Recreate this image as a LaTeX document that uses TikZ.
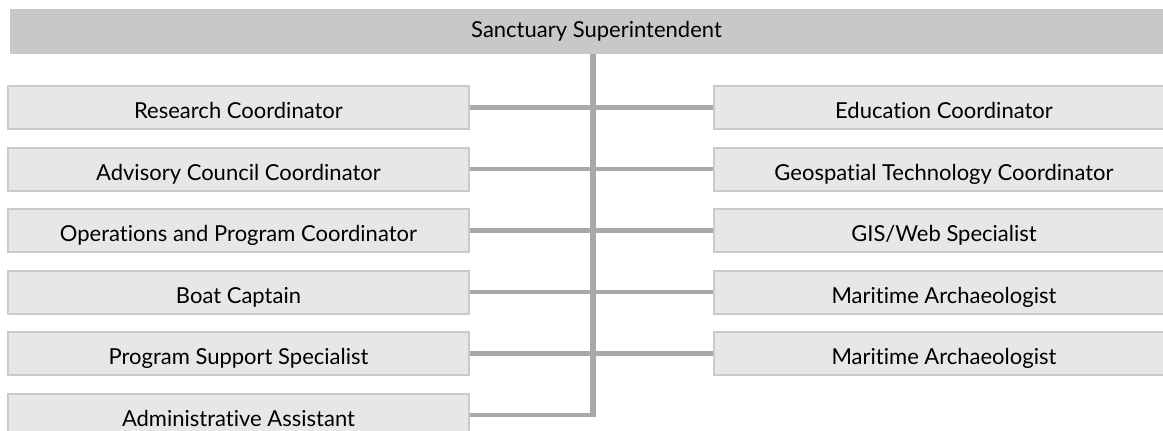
\documentclass[tikz,border=0pt]{standalone}
\usepackage{fontspec}
\setmainfont{Lato}[Ligatures=NoCommon]
\definecolor{boxfill}{HTML}{E6E7E8}
\definecolor{boxline}{HTML}{C9CACC}
\definecolor{barfill}{HTML}{C7C8CA}
\definecolor{linkgray}{HTML}{A7A9AC}
\begin{document}
\begin{tikzpicture}[x=1pt,y=-1pt]
        \tikzstyle{post}=[rectangle,draw=boxline,line width=2pt,fill=boxfill,minimum width=461pt,minimum height=43pt,inner sep=0pt,text height=22pt,text depth=0pt,font=\fontsize{22}{26}\selectfont]
        \tikzstyle{head}=[rectangle,fill=barfill,minimum width=1173pt,minimum height=45pt,inner sep=0pt,text height=12pt,text depth=0pt,font=\fontsize{22}{26}\selectfont]
        \tikzstyle{edge}=[draw=linkgray,line width=4.3pt]
        \tikzstyle{trunk}=[draw=linkgray,line width=6pt]
       \useasboundingbox (0,0) rectangle (1163,431);
       \begin{scope}
         \node [head] (chief) at (596.5,31.5) {Sanctuary Superintendent};

         \node [post] (l1) at (238.5,107.5) {Research Coordinator};
         \node [post] (l2) at (238.5,169) {Advisory Council Coordinator};
         \node [post] (l3) at (238.5,230.5) {Operations and Program Coordinator};
         \node [post] (l4) at (238.5,292) {Boat Captain};
         \node [post] (l5) at (238.5,353.5) {Program Support Specialist};
         \node [post] (l6) at (238.5,415) {Administrative Assistant};

         \node [post] (r1) at (944,107.5) {Education Coordinator};
         \node [post] (r2) at (944,169) {Geospatial Technology Coordinator};
         \node [post] (r3) at (944,230.5) {GIS/Web Specialist};
         \node [post] (r4) at (944,292) {Maritime Archaeologist};
         \node [post] (r5) at (944,353.5) {Maritime Archaeologist};

         \coordinate (spine) at (593,417);

         \path[edge] (l1.east) -- (l1.east -| spine);
         \path[edge] (l2.east) -- (l2.east -| spine);
         \path[edge] (l3.east) -- (l3.east -| spine);
         \path[edge] (l4.east) -- (l4.east -| spine);
         \path[edge] (l5.east) -- (l5.east -| spine);
         \path[edge] (l6.east) -- (l6.east -| spine);

         \path[edge] (r1.west) -- (r1.west -| spine);
         \path[edge] (r2.west) -- (r2.west -| spine);
         \path[edge] (r3.west) -- (r3.west -| spine);
         \path[edge] (r4.west) -- (r4.west -| spine);
         \path[edge] (r5.west) -- (r5.west -| spine);

         \path[trunk] (chief.south -| spine) -- (spine);
        \end{scope}
      \end{tikzpicture}
\end{document}
